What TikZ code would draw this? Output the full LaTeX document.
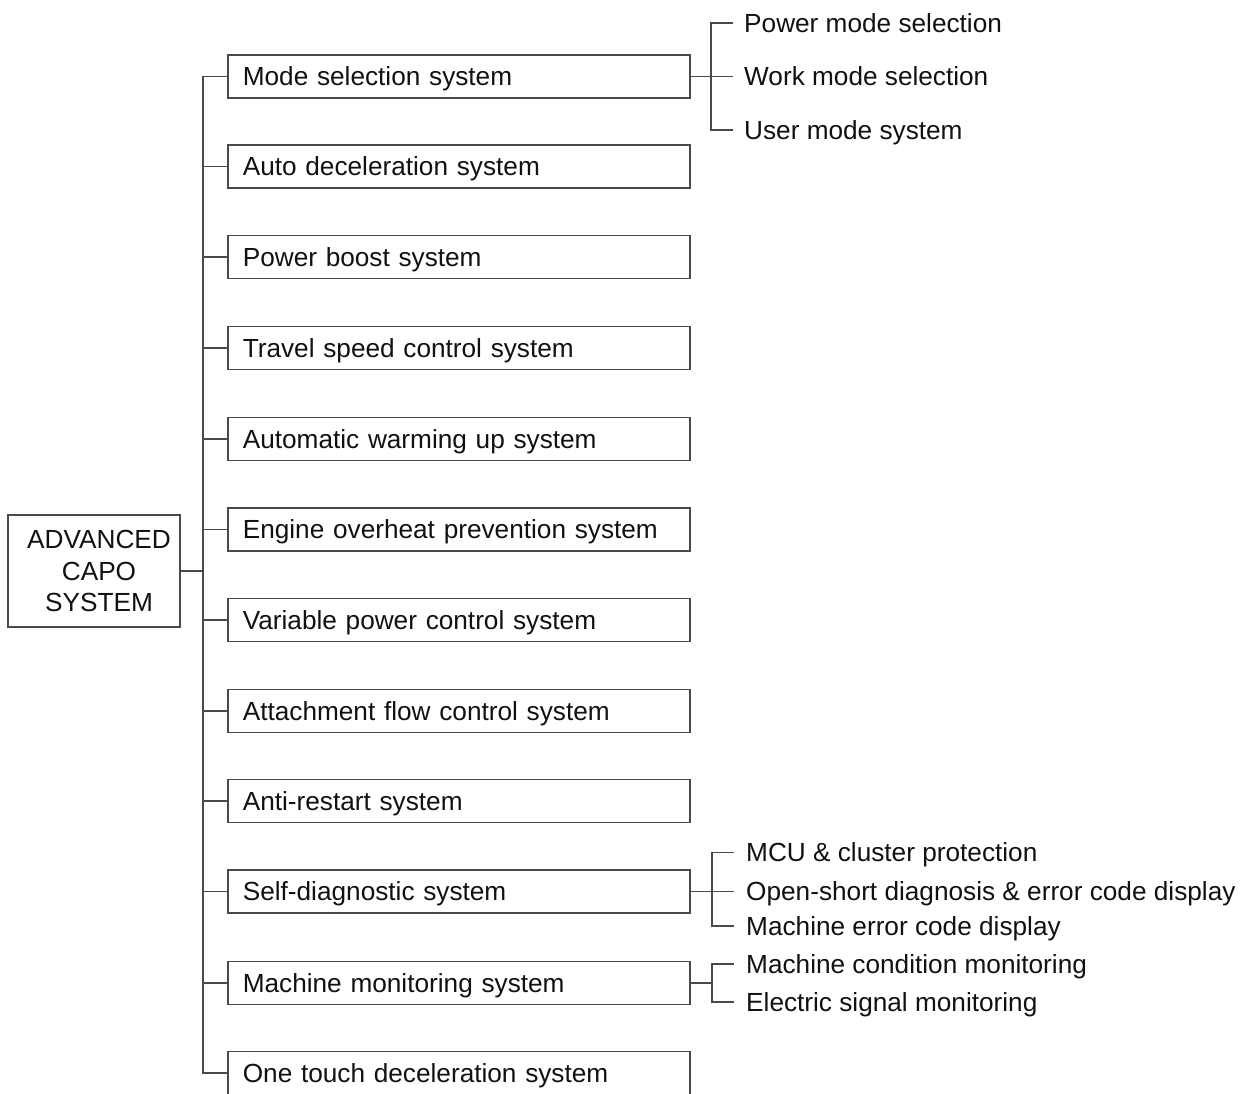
\documentclass[tikz,border=0pt]{standalone}
\usepackage{fontspec}
\setmainfont{Liberation Sans}
\newcommand\diafont{\fontsize{26.2}{31.5}\selectfont}
\definecolor{linegray}{HTML}{4A4A4A}
\definecolor{txt}{HTML}{111111}
\begin{document}
\begin{tikzpicture}[x=1pt,y=-1pt,
  line/.style={draw=linegray, line width=1.6pt},
  box/.style={draw=linegray, line width=1.6pt, anchor=west, text width=432pt,
    inner xsep=15pt, inner ysep=0pt, minimum height=43pt, text height=18.8pt,
    text depth=0pt, align=left, font=\diafont, text=txt},
  sub/.style={anchor=west, inner sep=0pt, text height=18.8pt, text depth=0pt,
    font=\diafont, text=txt}]
\path[use as bounding box] (0,0) rectangle (1248,1093);
\clip (0,0) rectangle (1248,1093);

\node[draw=linegray, line width=1.6pt, minimum width=172pt, minimum height=112pt,
  align=center, font=\diafont, text=txt, inner sep=0pt] (root) at (94,571)
  {\hspace*{10pt}ADVANCED\\\hspace*{10pt}CAPO\\\hspace*{10pt}SYSTEM};

\node[box] (c1)  at (227,76.5)  {Mode selection system};
\node[box] (c2)  at (227,166.5) {Auto deceleration system};
\node[box] (c3)  at (227,257)   {Power boost system};
\node[box] (c4)  at (227,348)   {Travel speed control system};
\node[box] (c5)  at (227,439)   {Automatic warming up system};
\node[box] (c6)  at (227,529.5) {Engine overheat prevention system};
\node[box] (c7)  at (227,620)   {Variable power control system};
\node[box] (c8)  at (227,711)   {Attachment flow control system};
\node[box] (c9)  at (227,801)   {Anti-restart system};
\node[box] (c10) at (227,891.5) {Self-diagnostic system};
\node[box] (c11) at (227,983)   {Machine monitoring system};
\node[box] (c12) at (227,1073)  {One touch deceleration system};

\node[sub] (s11) at (744,23)   {Power mode selection};
\node[sub] (s12) at (744,76.5) {Work mode selection};
\node[sub] (s13) at (744,130)  {User mode system};

\node[sub] (s21) at (746,852.5) {MCU \& cluster protection};
\node[sub] (s22) at (746,891.5) {Open-short diagnosis \& error code display};
\node[sub] (s23) at (746,926)   {Machine error code display};

\node[sub] (s31) at (746,964)  {Machine condition monitoring};
\node[sub] (s32) at (746,1002) {Electric signal monitoring};

% main tree
\draw[line] (root.east) -- ++(23,0);
\draw[line] (c1.west) -- ++(-24,0) |- (c12.west);
\foreach \i in {2,...,11} \draw[line] (c\i.west) -- ++(-24,0);

% mode selection branches
\coordinate (j1) at (711,76.5);
\draw[line] (c1.east) -- (j1);
\draw[line] ([xshift=-11pt]s11.west) -| (j1) |- ([xshift=-11pt]s13.west);
\draw[line] (j1) -- ([xshift=-11pt]s12.west);

% self-diagnostic branches
\coordinate (j2) at (712,891.5);
\draw[line] (c10.east) -- (j2);
\draw[line] ([xshift=-12pt]s21.west) -| (j2) |- ([xshift=-12pt]s23.west);
\draw[line] (j2) -- ([xshift=-12pt]s22.west);

% machine monitoring branches
\coordinate (j3) at (712,983);
\draw[line] (c11.east) -- (j3);
\draw[line] ([xshift=-12pt]s31.west) -| (j3) |- ([xshift=-12pt]s32.west);
\end{tikzpicture}
\end{document}
